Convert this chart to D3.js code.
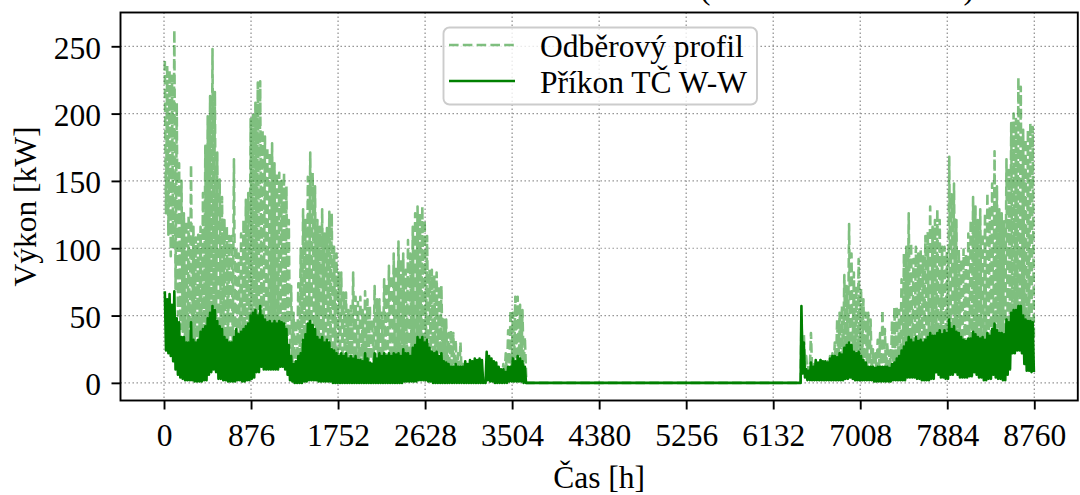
<!DOCTYPE html>
<html>
<head>
<meta charset="utf-8">
<script src="https://cdn.jsdelivr.net/npm/d3@7"></script>
<style>
  html, body { margin: 0; padding: 0; background: #fff; }
  svg { display: block; }
  text { font-family: "Liberation Serif", "Times New Roman", serif; fill: #000; }
</style>
</head>
<body>
<svg id="chart" width="1080" height="495"></svg>
<script>
// Axis ticks (hours of the year, kW)
const xTicks = [0, 876, 1752, 2628, 3504, 4380, 5256, 6132, 7008, 7884, 8760];
const yTicks = [0, 50, 100, 150, 200, 250];
const seriesNames = ["Odběrový profil", "Příkon TČ W-W"];
const titleText = "Celková roční bilance odběru a TČ (ÚT + TV bez akum.)";

// Heating seasons: first hour of each block and its number of days.
// Between the two blocks the demand and the heat-pump input are zero.
const seasonStart = [0, 6408];
const seasonDays = [152, 98];
const dayHours = 24;

// Demand profile per day: daytime peak and night-time base [kW]
const demandPeak = [
  // January – early June
  239,236, 232,228, 262,208, 163,150, 126,120, 124,162, 116,108, 110,116, 141,176, 198,213,
  248,216, 171,151, 138,121, 116,109, 109,166, 101,96, 111,121, 136,141, 196,200, 208,223,
  224,188, 183,175, 171,178, 163,156, 156,150, 156,146, 121,72, 52,47, 74,100, 129,121,
  153,171, 156,146, 121,116, 129,111, 115,127, 126,101, 96,82, 82,67, 67,54, 57,82,
  64,60, 64,54, 68,62, 57,47, 72,62, 62,52, 77,74, 87,80, 96,87, 105,92,
  96,84, 106,96, 116,126, 131,126, 131,121, 109,84, 84,80, 82,72, 72,47, 47,37,
  39,37, 32,22, 30,14, 14,12, 12,12, 12,10, 12,8, 1,10, 10,12, 10,10,
  10,8, 14,22, 39,54, 52,64, 64,58, 54,34,
  // late September – December
  47,37, 20,14, 37,16, 15,14, 17,15, 14,16, 20,22, 30,47, 52,57, 80,72,
  118,96, 82,72, 92,70, 62,52, 52,47, 25,22, 32,37, 54,40, 30,24, 46,56,
  57,54, 77,96, 101,126, 104,92, 101,96, 99,94, 109,112, 131,116, 121,129, 121,101,
  101,98, 168,140, 148,121, 99,92, 99,96, 111,121, 138,131, 121,129, 111,126, 141,131,
  148,172, 146,129, 126,120, 166,158, 193,200, 196,227, 220,188, 181,188, 193,190
];
const demandBase = [
  126,110, 94,100, 70,50, 40,38, 30,30, 30,30, 28,28, 30,32, 34,38, 44,46,
  50,48, 40,38, 34,32, 28,28, 28,30, 34,32, 32,34, 36,38, 44,46, 48,48,
  50,46, 42,40, 40,40, 40,40, 40,38, 38,34, 24,16, 12,12, 16,20, 28,30,
  38,40, 36,34, 28,28, 28,26, 26,26, 22,18, 18,18, 18,18, 18,16, 16,18,
  16,16, 14,14, 18,16, 12,12, 18,16, 18,16, 18,18, 18,18, 18,18, 18,18,
  20,18, 18,18, 20,22, 28,26, 28,26, 26,20, 18,18, 18,16, 16,12, 10,10,
  8,8, 8,8, 6,6, 6,6, 6,6, 6,6, 6,4, 0,6, 6,6, 6,6,
  6,6, 6,6, 8,10, 12,12, 14,12, 10,8,
  20,12, 8,8, 8,8, 8,8, 8,8, 8,8, 10,10, 12,12, 14,14, 20,20,
  24,22, 18,18, 18,16, 12,12, 8,8, 8,8, 8,8, 8,8, 8,8, 10,10,
  12,14, 18,20, 24,26, 24,24, 26,24, 24,24, 26,26, 30,28, 30,30, 30,28,
  30,30, 36,34, 34,30, 28,26, 24,24, 26,28, 30,28, 26,26, 26,26, 28,30,
  32,34, 30,28, 28,30, 36,40, 44,44, 46,46, 44,40, 36,36, 35,34
];

// Heat pump W-W electrical input per day: peak and base [kW]
const powerPeak = [
  68,62, 66,58, 68,48, 45,34, 34,30, 30,45, 32,30, 32,38, 40,42, 48,52,
  57,54, 46,42, 40,34, 32,30, 30,34, 40,36, 38,40, 42,44, 50,52, 54,50,
  57,50, 47,45, 46,44, 46,44, 46,45, 44,40, 28,20, 14,16, 20,22, 32,36,
  44,46, 43,40, 34,32, 34,30, 32,30, 25,24, 22,20, 22,20, 22,18, 20,18,
  20,17, 17,16, 22,18, 15,14, 22,18, 22,20, 22,20, 22,20, 22,21, 22,20,
  25,22, 22,20, 26,28, 34,32, 34,30, 32,26, 23,22, 23,20, 22,16, 15,14,
  12,12, 14,12, 12,12, 16,14, 17,16, 18,17, 18,17, 1,23, 20,18, 16,15,
  12,10, 10,8, 12,12, 18,16, 20,18, 16,12,
  57,30, 10,9, 15,12, 17,15, 17,16, 16,15, 18,20, 20,19, 22,21, 26,28,
  30,28, 23,22, 23,20, 17,15, 12,12, 12,11, 12,12, 12,12, 12,11, 14,15,
  18,20, 24,27, 30,34, 32,30, 34,31, 32,30, 32,34, 37,35, 35,37, 39,36,
  39,37, 47,40, 42,38, 37,34, 32,31, 33,33, 38,36, 34,33, 34,32, 37,35,
  40,44, 39,37, 37,36, 47,45, 52,54, 54,57, 57,50, 47,46, 46,45
];
const powerBase = [
  24,22, 20,16, 10,6, 4,3, 2,2, 2,2, 1,1, 1,1, 2,2, 6,8,
  10,8, 3,3, 2,2, 1,1, 1,1, 2,2, 1,1, 2,2, 3,4, 8,8,
  12,10, 10,10, 10,10, 10,10, 12,12, 10,6, 2,1, 0,0, 0,0, 1,1,
  2,2, 2,2, 1,1, 1,1, 1,1, 0,0, 0,0, 0,0, 0,0, 0,0,
  0,0, 0,0, 0,0, 0,0, 0,0, 0,0, 0,0, 0,0, 0,0, 0,0,
  1,1, 1,1, 1,1, 2,2, 2,2, 1,1, 0,0, 0,0, 0,0, 0,0,
  0,0, 0,0, 0,0, 0,0, 0,0, 0,0, 0,0, 0,2, 1,1, 0,0,
  0,0, 0,0, 1,1, 1,1, 1,1, 0,0,
  7,4, 2,2, 2,2, 2,2, 2,2, 2,2, 2,2, 2,2, 2,2, 3,3,
  4,3, 2,2, 2,2, 2,2, 2,2, 1,1, 1,1, 1,1, 1,1, 2,2,
  2,2, 2,2, 4,4, 4,4, 3,3, 2,2, 2,2, 3,3, 8,6, 4,4,
  3,3, 6,6, 8,6, 4,4, 4,4, 5,5, 8,6, 4,4, 2,2, 3,3,
  6,4, 3,3, 2,2, 6,10, 22,22, 24,24, 22,14, 9,9, 8,8
];

// ---------- layout ----------
const FONT = 31.5;
const plot = { left: 120.5, right: 1077.8, top: 12.5, bottom: 400.5 };
const svg = d3.select("#chart");

const x = d3.scaleLinear().domain([-438, 9198]).range([plot.left, plot.right]);
const y = d3.scaleLinear().domain([-13.1, 275.1]).range([plot.bottom, plot.top]);

// Turn daily peak/base values into a day/night zig-zag over the hours of the year
function buildSeries(peak, base) {
  const pts = [];
  let idx = 0;
  seasonStart.forEach((start, s) => {
    if (s > 0) pts.push([start, 0]);
    for (let k = 0; k < seasonDays[s]; k++, idx++) {
      const t0 = start + k * dayHours;
      pts.push([t0 + 8, peak[idx]]);
      pts.push([t0 + 20, base[idx]]);
    }
    if (s < seasonStart.length - 1) pts.push([start + seasonDays[s] * dayHours, 0]);
  });
  return pts;
}
const demand = buildSeries(demandPeak, demandBase);
const power = buildSeries(powerPeak, powerBase);

// title (sits above the axes, mostly outside the figure)
svg.append("text")
  .attr("x", 974).attr("y", -1.5)
  .attr("text-anchor", "end")
  .style("font-size", FONT + "px")
  .text(titleText);

// clip for data lines
svg.append("defs").append("clipPath").attr("id", "plotClip")
  .append("rect")
  .attr("x", plot.left).attr("y", plot.top)
  .attr("width", plot.right - plot.left).attr("height", plot.bottom - plot.top);

// grid
const grid = svg.append("g").attr("class", "grid")
  .attr("stroke", "#8c8c8c").attr("stroke-width", 1.2)
  .attr("stroke-dasharray", "1.4 2.6").attr("fill", "none");
grid.selectAll("line.gx").data(xTicks).join("line").attr("class", "gx")
  .attr("x1", d => x(d)).attr("x2", d => x(d))
  .attr("y1", plot.top).attr("y2", plot.bottom);
grid.selectAll("line.gy").data(yTicks).join("line").attr("class", "gy")
  .attr("y1", d => y(d)).attr("y2", d => y(d))
  .attr("x1", plot.left).attr("x2", plot.right);

// data lines
const line = d3.line().x(d => x(d[0])).y(d => y(d[1]));
const lines = svg.append("g").attr("clip-path", "url(#plotClip)");
lines.append("path")
  .datum(demand)
  .attr("d", line)
  .attr("fill", "none")
  .attr("stroke", "#008000").attr("stroke-opacity", 0.5)
  .attr("stroke-width", 2.6)
  .attr("stroke-dasharray", "9.6 4.2")
  .attr("stroke-linejoin", "round");
lines.append("path")
  .datum(power)
  .attr("d", line)
  .attr("fill", "none")
  .attr("stroke", "#008000")
  .attr("stroke-width", 2.6)
  .attr("stroke-linejoin", "round");

// axes
const serif = '"Liberation Serif", "Times New Roman", serif';
const xAxis = svg.append("g")
  .attr("transform", `translate(0,${plot.bottom})`)
  .call(d3.axisBottom(x).tickValues(xTicks).tickFormat(d3.format("d")).tickSize(9).tickPadding(8));
xAxis.select(".domain").remove();
xAxis.selectAll(".tick line").attr("stroke", "#000").attr("stroke-width", 1.9);
xAxis.selectAll(".tick text")
  .attr("y", 45.5).attr("dy", null)
  .style("font-size", FONT + "px")
  .style("font-family", serif)
  .attr("fill", "#000");

const yAxis = svg.append("g")
  .attr("transform", `translate(${plot.left},0)`)
  .call(d3.axisLeft(y).tickValues(yTicks).tickFormat(d3.format("d")).tickSize(9).tickPadding(10.5));
yAxis.select(".domain").remove();
yAxis.selectAll(".tick line").attr("stroke", "#000").attr("stroke-width", 1.9);
yAxis.selectAll(".tick text")
  .attr("dy", "0.38em")
  .style("font-size", FONT + "px")
  .style("font-family", serif)
  .attr("fill", "#000");

// frame
svg.append("rect")
  .attr("x", plot.left).attr("y", plot.top)
  .attr("width", plot.right - plot.left).attr("height", plot.bottom - plot.top)
  .attr("fill", "none").attr("stroke", "#000").attr("stroke-width", 1.9);

// axis labels
svg.append("text")
  .attr("x", (plot.left + plot.right) / 2).attr("y", 487.5)
  .attr("text-anchor", "middle")
  .style("font-size", FONT + "px")
  .text("Čas [h]");
svg.append("text")
  .attr("transform", `translate(36,${(plot.top + plot.bottom) / 2}) rotate(-90)`)
  .attr("text-anchor", "middle")
  .style("font-size", FONT + "px")
  .text("Výkon [kW]");

// legend
const lg = svg.append("g");
lg.append("rect")
  .attr("x", 443.5).attr("y", 27.5).attr("width", 313.5).attr("height", 77)
  .attr("rx", 6).attr("ry", 6)
  .attr("fill", "#fff").attr("fill-opacity", 0.8)
  .attr("stroke", "#cccccc").attr("stroke-width", 1.9);
const legendRows = [
  { name: seriesNames[0], dash: "9.6 4.2", opacity: 0.5, ly: 45, ty: 56.5 },
  { name: seriesNames[1], dash: null, opacity: 1, ly: 81, ty: 92.5 }
];
legendRows.forEach(r => {
  lg.append("line")
    .attr("x1", 449).attr("x2", 515).attr("y1", r.ly).attr("y2", r.ly)
    .attr("stroke", "#008000").attr("stroke-opacity", r.opacity)
    .attr("stroke-width", 2.6)
    .attr("stroke-dasharray", r.dash);
  lg.append("text")
    .attr("x", 540).attr("y", r.ty)
    .style("font-size", FONT + "px")
    .text(r.name);
});
</script>
</body>
</html>
